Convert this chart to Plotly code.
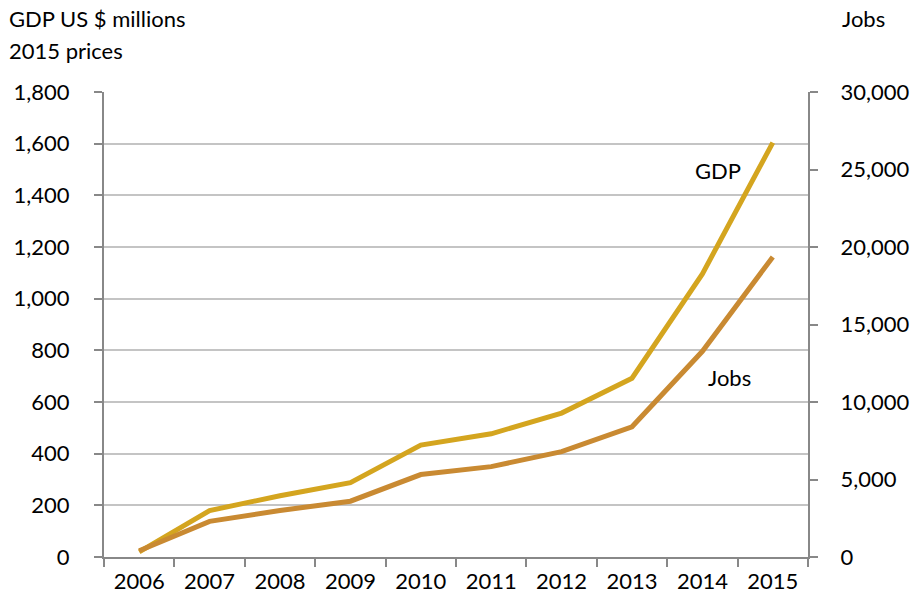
import plotly.graph_objects as go

years = ["2006", "2007", "2008", "2009", "2010", "2011", "2012", "2013", "2014", "2015"]
gdp = [20, 180, 237, 288, 433, 477, 557, 692, 1096, 1604]
jobs = [400, 2300, 3000, 3600, 5320, 5830, 6800, 8400, 13270, 19360]

FONT = "Lato"
W, H = 921, 606
# target plot area on screen
SX0, SX1, SY0, SY1 = 104, 814, 92, 560
L, T = SX0, SY0
R, B = W - SX1, H - SY1
pw, ph = SX1 - SX0, SY1 - SY0

def px(x):
    return (x - SX0) / pw

def py(y):
    return (SY1 - y) / ph

fig = go.Figure()
fig.add_trace(go.Scatter(x=years, y=gdp, mode="lines", name="GDP",
                         line=dict(color="#D4A51F", width=5), yaxis="y"))
fig.add_trace(go.Scatter(x=years, y=jobs, mode="lines", name="Jobs",
                         line=dict(color="#C98A32", width=5), yaxis="y2"))

axis_color = "#888888"
fig.update_layout(
    width=W, height=H,
    margin=dict(l=L, r=R, t=T, b=B),
    paper_bgcolor="white", plot_bgcolor="white",
    showlegend=False,
    font=dict(family=FONT, size=22, color="#000000"),
    xaxis=dict(type="category", range=[-0.5, 9.5], tickson="boundaries",
               ticks="outside", ticklen=8, tickcolor=axis_color, tickwidth=2,
               showline=True, linecolor=axis_color, linewidth=2,
               showgrid=False, ticklabelstandoff=4, fixedrange=True),
    yaxis=dict(range=[0, 1800], dtick=200, tickformat=",d",
               ticks="outside", ticklen=8, tickcolor=axis_color, tickwidth=2,
               showline=True, linecolor=axis_color, linewidth=2,
               showgrid=True, gridcolor="#C4C4C4", gridwidth=2,
               zeroline=False, ticklabelstandoff=20),
    yaxis2=dict(range=[0, 30000], dtick=5000, tickformat=",d", overlaying="y",
                side="right", ticks="outside", ticklen=8, tickcolor=axis_color,
                tickwidth=2, showline=True, linecolor=axis_color, linewidth=2,
                showgrid=False, zeroline=False, ticklabelstandoff=18),
    annotations=[
        dict(text="GDP US $ millions", xref="paper", yref="paper",
             x=px(6), y=py(18), xanchor="left", yanchor="middle", showarrow=False),
        dict(text="2015 prices", xref="paper", yref="paper",
             x=px(6), y=py(50), xanchor="left", yanchor="middle", showarrow=False),
        dict(text="Jobs", xref="paper", yref="paper",
             x=px(870), y=py(18), xanchor="center", yanchor="middle", showarrow=False),
        dict(text="GDP", xref="paper", yref="paper",
             x=px(723), y=py(171), xanchor="center", yanchor="middle", showarrow=False),
        dict(text="Jobs", xref="paper", yref="paper",
             x=px(735), y=py(379), xanchor="center", yanchor="middle", showarrow=False),
    ],
)

fig.write_html("out.html", config={"displayModeBar": False},
               post_script="document.body.style.margin='0';")
